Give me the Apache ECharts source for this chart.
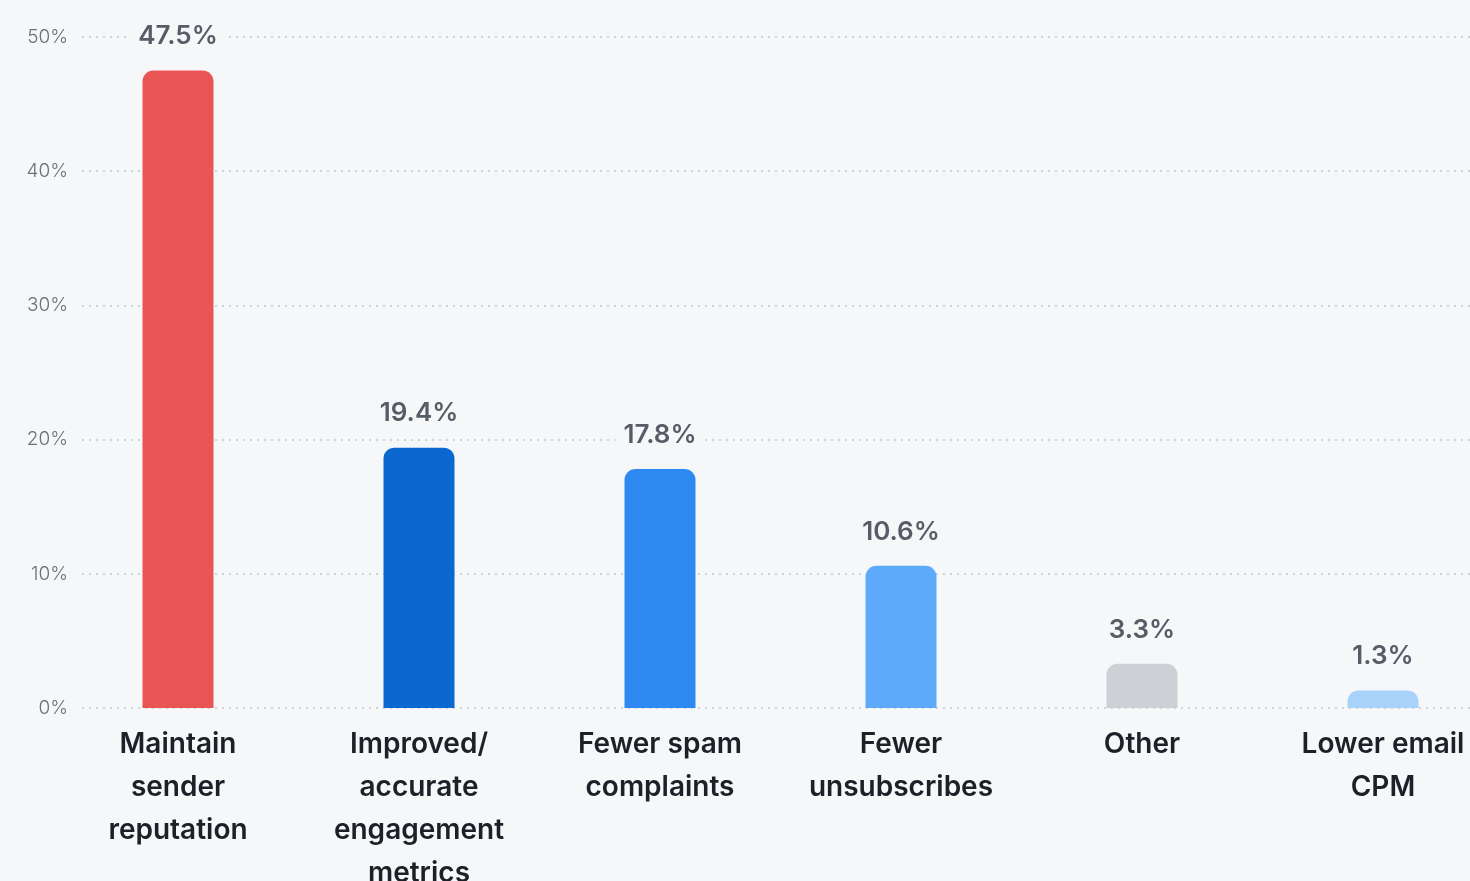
<!DOCTYPE html>
<html>
<head>
<meta charset="utf-8">
<script src="https://cdn.jsdelivr.net/npm/echarts@6/dist/echarts.min.js"></script>
<style>
  html, body { margin: 0; padding: 0; background: #F5F7F9; }
  #chart { width: 1470px; height: 881px; }
</style>
</head>
<body>
<div id="chart"></div>
<script>
// Reasons cited, share of respondents (%)
const categories = [
  'Maintain\nsender\nreputation',
  'Improved/\naccurate\nengagement\nmetrics',
  'Fewer spam\ncomplaints',
  'Fewer\nunsubscribes',
  'Other',
  'Lower email\nCPM'
];
const values = [47.5, 19.4, 17.8, 10.6, 3.3, 1.3];
const barColors = ['#E95454', '#0D67D1', '#2E8AF0', '#5DA9FA', '#CDD1D5', '#A9D2FB'];
const yTicks = [0, 10, 20, 30, 40, 50];

const bg = '#F5F7F9';
const chart = echarts.init(document.getElementById('chart'));

chart.setOption({
  backgroundColor: bg,
  animation: false,
  grid: [
    // axis + dotted guide lines
    { left: 82, right: 0, top: 37, bottom: 173, outerBoundsMode: 'none', containLabel: false },
    // bars
    { left: 57.5, width: 1446, top: 37, bottom: 173, outerBoundsMode: 'none', containLabel: false }
  ],
  xAxis: [
    { gridIndex: 0, type: 'category', data: categories, show: false },
    {
      gridIndex: 1, type: 'category', data: categories,
      axisLine: { show: false }, axisTick: { show: false },
      axisLabel: {
        margin: 15, interval: 0,
        fontFamily: 'Inter', fontSize: 28, fontWeight: 600,
        color: '#1C2128', lineHeight: 43
      }
    }
  ],
  yAxis: [
    {
      gridIndex: 0, type: 'value', min: yTicks[0], max: yTicks[yTicks.length - 1], interval: 10,
      axisLine: { show: false }, axisTick: { show: false },
      axisLabel: {
        margin: 14, fontFamily: 'Inter', fontSize: 19, fontWeight: 300,
        color: '#6B7079', formatter: v => v + '%'
      },
      splitLine: { lineStyle: { type: [2, 5], color: '#C3C8CE', width: 1.5 } }
    },
    {
      gridIndex: 1, type: 'value', min: yTicks[0], max: yTicks[yTicks.length - 1], interval: 10,
      show: false, splitLine: { show: false }
    }
  ],
  series: [{
    type: 'bar',
    xAxisIndex: 1, yAxisIndex: 1,
    barWidth: 71,
    data: values.map((v, i) => ({ value: v, itemStyle: { color: barColors[i] } })),
    itemStyle: { borderRadius: [11, 11, 0, 0] },
    label: {
      show: true, position: 'top', distance: 19,
      formatter: p => p.value + '%',
      fontFamily: 'Inter', fontSize: 26, fontWeight: 600, color: '#575D66',
      backgroundColor: bg, padding: [2, 8]
    }
  }]
});
</script>
</body>
</html>
